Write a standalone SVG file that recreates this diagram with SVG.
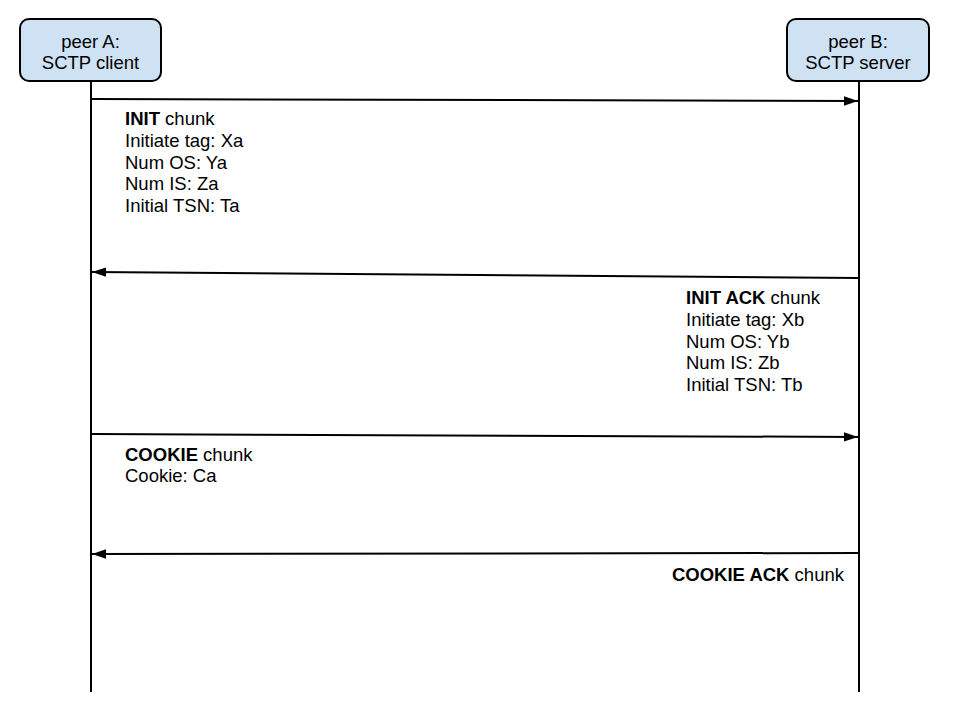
<svg xmlns="http://www.w3.org/2000/svg" width="960" height="720" viewBox="0 0 960 720">
<defs>
<style>
text{font-family:"Liberation Sans",Arial,sans-serif;font-size:18.5px;fill:#000}
.b{font-weight:bold}
.box{fill:#cfe2f3;stroke:#000;stroke-width:2}
.life{stroke:#000;stroke-width:2;fill:none}
.msg{stroke:#000;stroke-width:2;fill:none;marker-end:url(#ah)}
</style>
<marker id="ah" markerUnits="userSpaceOnUse" markerWidth="14" markerHeight="10" viewBox="0 0 12 8" refX="12" refY="4" orient="auto">
<path d="M0,0 L12,4 L0,8 Z" fill="#000"/>
</marker>
</defs>
<rect width="960" height="720" fill="#fff"/>
<g id="peerA">
<rect class="box" x="20" y="19" width="141" height="62" rx="9"/>
<text x="90.5" y="47.5" text-anchor="middle">peer A:</text>
<text x="90.5" y="69" text-anchor="middle">SCTP client</text>
</g>
<g id="peerB">
<rect class="box" x="787" y="19" width="142" height="62" rx="9"/>
<text x="858" y="47.5" text-anchor="middle">peer B:</text>
<text x="858" y="69" text-anchor="middle">SCTP server</text>
</g>
<g id="connectors">
<line class="life" x1="91" y1="81" x2="91" y2="692"/>
<line class="life" x1="859" y1="81" x2="859" y2="692"/>
<line class="msg" x1="92" y1="99" x2="858" y2="101"/>
<line class="msg" x1="858" y1="278" x2="92" y2="272"/>
<line class="msg" x1="92" y1="434" x2="858" y2="437"/>
<line class="msg" x1="858" y1="553" x2="92" y2="554"/>
</g>
<g id="label-init">
<text x="125" y="125"><tspan class="b">INIT</tspan> chunk</text>
<text x="125" y="146.8">Initiate tag: Xa</text>
<text x="125" y="168.6">Num OS: Ya</text>
<text x="125" y="190.4">Num IS: Za</text>
<text x="125" y="212.2">Initial TSN: Ta</text>
</g>
<g id="label-initack">
<text x="686" y="304"><tspan class="b">INIT ACK</tspan> chunk</text>
<text x="686" y="325.8">Initiate tag: Xb</text>
<text x="686" y="347.6">Num OS: Yb</text>
<text x="686" y="369.4">Num IS: Zb</text>
<text x="686" y="391.2">Initial TSN: Tb</text>
</g>
<g id="label-cookie">
<text x="125" y="460.5"><tspan class="b">COOKIE</tspan> chunk</text>
<text x="125" y="482.3">Cookie: Ca</text>
</g>
<g id="label-cookieack">
<text x="844" y="580.5" text-anchor="end"><tspan class="b">COOKIE ACK</tspan> chunk</text>
</g>
</svg>
